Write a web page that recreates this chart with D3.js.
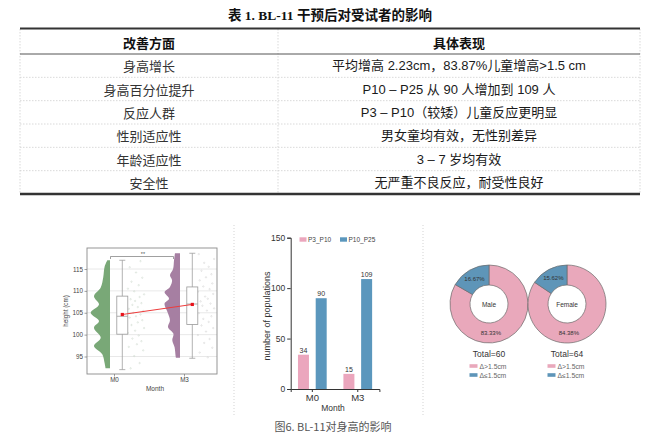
<!DOCTYPE html>
<html>
<head>
<meta charset="utf-8">
<script src="https://cdn.jsdelivr.net/npm/d3@7"></script>
<style>
	body { margin: 0; background: #fff; }
	svg { display: block; }
</style>
</head>
<body>
<svg id="chart" width="650" height="438"></svg>
<script>
// ---- table ----
var tableTitle = '表 1. BL-11 干预后对受试者的影响';
var tableHeader = ['改善方面', '具体表现'];
var aspects = ['身高增长', '身高百分位提升', '反应人群', '性别适应性', '年龄适应性', '安全性'];
var effects = [
	'平均增高 2.23cm，83.87%儿童增高>1.5 cm',
	'P10 – P25 从 90 人增加到 109 人',
	'P3 – P10（较矮）儿童反应更明显',
	'男女童均有效，无性别差异',
	'3 – 7 岁均有效',
	'无严重不良反应，耐受性良好'
];

// ---- raincloud (height by month) ----
var months = ['M0', 'M3'];
var heightTicks = [95, 100, 105, 110, 115];
var m0DensityH = [92.3, 93.5, 95.5, 97.4, 99.3, 101.6, 103.1, 105.0, 106.9, 108.8, 110.8, 113.1, 115.5, 117.0];
var m0Density = [0.23, 0.28, 0.4, 0.83, 0.48, 0.83, 0.57, 1.0, 0.57, 0.83, 0.48, 0.35, 0.28, 0.14];
var m3DensityH = [94.7, 95.2, 97.1, 98.7, 100.2, 101.7, 103.3, 105.2, 107.1, 108.2, 109.7, 110.9, 112.4, 113.6, 115.0, 117.0, 118.6];
var m3Density = [0.21, 0.23, 0.28, 0.4, 0.34, 0.62, 0.52, 0.65, 0.8, 0.57, 0.8, 0.52, 0.41, 0.52, 0.36, 0.31, 0.26];
// min, q1, median, q3, max, mean
var boxStats = [
	[92.0, 100.1, 104.2, 108.8, 117.0, 104.6],
	[94.6, 102.3, 107.0, 110.9, 118.6, 106.9]
];
var m0Heights = [92.3, 93.5, 95.1, 96.4, 97.2, 97.8, 98.5, 99.1, 99.8, 100.4, 100.9, 101.5, 102.2, 102.8, 103.3, 103.9, 104.2, 104.6,
	105.0, 105.4, 105.9, 106.3, 106.8, 107.2, 107.7, 108.1, 108.6, 109.2, 109.9, 110.5, 111.3, 112.1, 113.0, 114.2, 115.4, 116.8];
var m0Jitter = [0.2, 0.7, 0.4, 0.9, 0.1, 0.55, 0.8, 0.3, 0.65, 0.05, 0.45, 0.95, 0.25, 0.6, 0.85, 0.15, 0.5, 0.75,
	0.35, 0.9, 0.1, 0.6, 0.3, 0.8, 0.45, 0.2, 0.7, 0.95, 0.4, 0.05, 0.65, 0.25, 0.85, 0.5, 0.15, 0.75];
var m3Heights = [94.8, 95.9, 97.0, 98.1, 99.0, 99.9, 100.7, 101.5, 102.1, 102.9, 103.6, 104.2, 104.9, 105.5, 106.0, 106.6, 107.1,
	107.6, 108.2, 108.7, 109.3, 109.8, 110.4, 111.0, 111.7, 112.4, 113.1, 113.8, 114.6, 115.5, 116.4, 117.3, 118.4];
var m3Jitter = [0.6, 0.15, 0.85, 0.4, 0.7, 0.05, 0.5, 0.9, 0.25, 0.65, 0.35, 0.8, 0.1, 0.55, 0.95, 0.3, 0.75,
	0.2, 0.6, 0.45, 0.9, 0.05, 0.7, 0.35, 0.85, 0.15, 0.5, 0.8, 0.25, 0.65, 0.4, 0.95, 0.1];

// ---- bars (populations) ----
var groups = ['P3_P10', 'P10_P25'];
var p3p10 = [34, 15];
var p10p25 = [90, 109];
var popTicks = [0, 50, 100, 150];

// ---- donuts ----
var sexes = ['Male', 'Female'];
var above15 = [83.33, 84.38];
var below15 = [16.67, 15.62];
var totals = [60, 64];
var donutLegend = ['Δ>1.5cm', 'Δ≤1.5cm'];

var caption = '图6. BL-11对身高的影响';

var sans = '"Liberation Sans", Arial, "Noto Sans CJK SC", sans-serif';
var cjk = '"Noto Sans CJK SC", "Liberation Sans", sans-serif';
var pink = '#eba6bd', blue = '#5b97bd';

var svg = d3.select('#chart');

// ===== table =====
var tbl = svg.append('g');
var tLeft = 20, tRight = 640, tDiv = 278;

tbl.append('text')
	.attr('x', 330).attr('y', 15)
	.attr('text-anchor', 'middle').attr('dominant-baseline', 'central')
	.attr('font-family', '"Liberation Serif", "Noto Sans CJK SC", serif')
	.attr('font-weight', 'bold').attr('font-size', 13.5).attr('fill', '#111')
	.text(tableTitle);

var rowScale = d3.scaleBand()
	.domain(d3.range(aspects.length))
	.range([54, 194]);

// faint dotted cell borders
tbl.selectAll('line.vert')
	.data([tLeft, tDiv, tRight])
	.enter().append('line')
	.attr('x1', function(d) { return d; }).attr('x2', function(d) { return d; })
	.attr('y1', 29).attr('y2', 193)
	.attr('stroke', '#cfcfcf').attr('stroke-width', 0.8)
	.attr('stroke-dasharray', '1.5,1.5');

tbl.selectAll('line.row')
	.data(d3.range(1, aspects.length))
	.enter().append('line')
	.attr('x1', tLeft).attr('x2', tRight)
	.attr('y1', function(d) { return rowScale(d); })
	.attr('y2', function(d) { return rowScale(d); })
	.attr('stroke', '#cfcfcf').attr('stroke-width', 0.8)
	.attr('stroke-dasharray', '1.5,1.5');

tbl.append('line')
	.attr('x1', tLeft).attr('x2', tRight).attr('y1', 28.5).attr('y2', 28.5)
	.attr('stroke', '#333').attr('stroke-width', 2);
tbl.append('line')
	.attr('x1', tLeft).attr('x2', tRight).attr('y1', 54).attr('y2', 54)
	.attr('stroke', '#555').attr('stroke-width', 1);
tbl.append('line')
	.attr('x1', tLeft).attr('x2', tRight).attr('y1', 194).attr('y2', 194)
	.attr('stroke', '#333').attr('stroke-width', 2.5);

var colCenters = [(tLeft + tDiv) / 2, (tDiv + tRight) / 2];

tbl.selectAll('text.head')
	.data(tableHeader)
	.enter().append('text')
	.attr('x', function(d, i) { return colCenters[i]; })
	.attr('y', 42)
	.attr('text-anchor', 'middle').attr('dominant-baseline', 'central')
	.attr('font-family', cjk).attr('font-weight', 'bold')
	.attr('font-size', 13).attr('fill', '#111')
	.text(function(d) { return d; });

tbl.selectAll('text.aspect')
	.data(aspects)
	.enter().append('text')
	.attr('x', colCenters[0])
	.attr('y', function(d, i) { return rowScale(i) + rowScale.bandwidth() / 2; })
	.attr('text-anchor', 'middle').attr('dominant-baseline', 'central')
	.attr('font-family', cjk).attr('font-size', 13).attr('fill', '#333')
	.text(function(d) { return d; });

tbl.selectAll('text.effect')
	.data(effects)
	.enter().append('text')
	.attr('x', colCenters[1])
	.attr('y', function(d, i) { return rowScale(i) + rowScale.bandwidth() / 2; })
	.attr('text-anchor', 'middle').attr('dominant-baseline', 'central')
	.attr('font-family', sans).attr('font-size', 13).attr('fill', '#1a1a1a')
	.text(function(d) { return d; });

// ===== separators =====
svg.selectAll('line.sep')
	.data([234, 423])
	.enter().append('line')
	.attr('x1', function(d) { return d; }).attr('x2', function(d) { return d; })
	.attr('y1', 225).attr('y2', 416)
	.attr('stroke', '#c8c8c8').attr('stroke-width', 0.8)
	.attr('stroke-dasharray', '1,2');

// ===== raincloud =====
var rc = svg.append('g');
var fx0 = 87, fx1 = 217, fy0 = 248, fy1 = 374;

var yL = d3.scaleLinear().domain([91, 119.8]).range([fy1, fy0]);
var xL = d3.scalePoint().domain(months).range([114, 184]);
var wL = d3.scaleLinear().domain([0, 1]).range([0, 19.3]);

rc.selectAll('line.grid')
	.data(heightTicks)
	.enter().append('line')
	.attr('x1', fx0).attr('x2', fx1)
	.attr('y1', function(d) { return yL(d); }).attr('y2', function(d) { return yL(d); })
	.attr('stroke', '#e2e2e2').attr('stroke-width', 0.8);

var clouds = [
	{ m: 'M0', h: m0DensityH, d: m0Density, color: '#79a877', pts: m0Heights, jit: m0Jitter, dot: '#c9d4c9' },
	{ m: 'M3', h: m3DensityH, d: m3Density, color: '#a67fa2', pts: m3Heights, jit: m3Jitter, dot: '#cfcfcf' }
];

clouds.forEach(function(c, gi) {
	var edge = xL(c.m) - 4;
	var area = d3.area()
		.curve(d3.curveCatmullRom)
		.y(function(d, i) { return yL(c.h[i]); })
		.x0(edge)
		.x1(function(d, i) { return edge - wL(c.d[i]); });
	rc.append('path')
		.datum(c.d)
		.attr('d', area)
		.attr('fill', c.color);

	rc.selectAll('circle.pt' + gi)
		.data(c.pts)
		.enter().append('circle')
		.attr('cx', function(d, i) { return xL(c.m) + 13 + c.jit[i] * 18; })
		.attr('cy', function(d) { return yL(d); })
		.attr('r', 0.7)
		.attr('fill', 'none')
		.attr('stroke', c.dot).attr('stroke-width', 0.5);

	var s = boxStats[gi];
	var bx = xL(c.m) + 8.3, bw = 11;
	rc.append('line')
		.attr('x1', bx).attr('x2', bx).attr('y1', yL(s[0])).attr('y2', yL(s[4]))
		.attr('stroke', '#a0a0a0').attr('stroke-width', 0.8);
	rc.selectAll('line.cap' + gi)
		.data([s[0], s[4]])
		.enter().append('line')
		.attr('x1', bx - 3).attr('x2', bx + 3)
		.attr('y1', function(d) { return yL(d); }).attr('y2', function(d) { return yL(d); })
		.attr('stroke', '#a0a0a0').attr('stroke-width', 0.8);
	rc.append('rect')
		.attr('x', bx - bw / 2).attr('width', bw)
		.attr('y', yL(s[3])).attr('height', yL(s[1]) - yL(s[3]))
		.attr('fill', '#fff').attr('stroke', '#9a9a9a').attr('stroke-width', 0.8);
	rc.append('line')
		.attr('x1', bx - bw / 2).attr('x2', bx + bw / 2)
		.attr('y1', yL(s[2])).attr('y2', yL(s[2]))
		.attr('stroke', '#9a9a9a').attr('stroke-width', 0.8);
});

// mean line
var meanLine = d3.line()
	.x(function(d, i) { return xL(months[i]) + 8.3; })
	.y(function(d) { return yL(d[5]); });
rc.append('path')
	.datum(boxStats)
	.attr('d', meanLine)
	.attr('fill', 'none').attr('stroke', '#ee3b3b').attr('stroke-width', 1);
rc.selectAll('rect.mean')
	.data(boxStats)
	.enter().append('rect')
	.attr('x', function(d, i) { return xL(months[i]) + 8.3 - 1.6; })
	.attr('y', function(d) { return yL(d[5]) - 1.6; })
	.attr('width', 3.2).attr('height', 3.2)
	.attr('fill', '#e8111a');

// significance bracket
var brY = 256.5;
rc.append('path')
	.attr('d', 'M' + (xL('M0') - 3.5) + ',' + (brY + 2.5) + 'V' + brY + 'H' + (xL('M3') - 10.5) + 'V' + (brY + 2.5))
	.attr('fill', 'none').attr('stroke', '#777').attr('stroke-width', 0.7);
rc.append('text')
	.attr('x', (xL('M0') + xL('M3')) / 2 - 6).attr('y', brY - 0.5)
	.attr('text-anchor', 'middle')
	.attr('font-family', sans).attr('font-size', 5.5).attr('fill', '#555')
	.text('**');

// frame
rc.append('rect')
	.attr('x', fx0).attr('y', fy0).attr('width', fx1 - fx0).attr('height', fy1 - fy0)
	.attr('fill', 'none').attr('stroke', '#8a8a8a').attr('stroke-width', 0.9);

var yAxisL = rc.append('g')
	.attr('transform', 'translate(' + fx0 + ',0)')
	.call(d3.axisLeft(yL).tickValues(heightTicks).tickSize(2.5).tickPadding(1.5));
var xAxisL = rc.append('g')
	.attr('transform', 'translate(0,' + fy1 + ')')
	.call(d3.axisBottom(xL).tickSize(2.5).tickPadding(1.5));
[yAxisL, xAxisL].forEach(function(a) {
	a.select('.domain').remove();
	a.selectAll('line').attr('stroke', '#777').attr('stroke-width', 0.7);
	a.selectAll('text').attr('font-family', sans).attr('font-size', 6.3).attr('fill', '#444');
});

rc.append('text')
	.attr('x', 155).attr('y', 391)
	.attr('text-anchor', 'middle')
	.attr('font-family', sans).attr('font-size', 6.5).attr('fill', '#444')
	.text('Month');
rc.append('text')
	.attr('transform', 'translate(68,311) rotate(-90)')
	.attr('text-anchor', 'middle')
	.attr('font-family', sans).attr('font-size', 6.3).attr('fill', '#444')
	.text('height (cm)');

// ===== bar chart =====
var bc = svg.append('g');
var yB = d3.scaleLinear().domain([0, 150]).range([389, 237.7]);
var xB = d3.scaleBand().domain(months).range([290.7, 379.4]).paddingInner(0.368).paddingOuter(0.16);
var xSub = d3.scaleBand().domain(groups).range([0, xB.bandwidth()]).paddingInner(0.38);
var barColor = d3.scaleOrdinal().domain(groups).range([pink, blue]);

var barData = [];
months.forEach(function(m, i) {
	barData.push({ m: m, g: groups[0], v: p3p10[i] });
	barData.push({ m: m, g: groups[1], v: p10p25[i] });
});

bc.selectAll('rect.bar')
	.data(barData)
	.enter().append('rect')
	.attr('x', function(d) { return xB(d.m) + xSub(d.g); })
	.attr('y', function(d) { return yB(d.v); })
	.attr('width', xSub.bandwidth())
	.attr('height', function(d) { return yB(0) - yB(d.v); })
	.attr('fill', function(d) { return barColor(d.g); });

bc.selectAll('text.val')
	.data(barData)
	.enter().append('text')
	.attr('x', function(d) { return xB(d.m) + xSub(d.g) + xSub.bandwidth() / 2; })
	.attr('y', function(d) { return yB(d.v) - 2; })
	.attr('text-anchor', 'middle')
	.attr('font-family', sans).attr('font-size', 7).attr('fill', '#333')
	.text(function(d) { return d.v; });

var yAxisB = bc.append('g')
	.attr('transform', 'translate(290.7,0)')
	.call(d3.axisLeft(yB).tickValues(popTicks).tickSize(3.5).tickPadding(2));
var xAxisB = bc.append('g')
	.attr('transform', 'translate(0,389)')
	.call(d3.axisBottom(xB).tickSize(3).tickPadding(2));
[yAxisB, xAxisB].forEach(function(a) {
	a.selectAll('.domain').attr('stroke', '#333').attr('stroke-width', 1);
	a.selectAll('line').attr('stroke', '#333').attr('stroke-width', 1);
	a.selectAll('text').attr('font-family', sans).attr('fill', '#333');
});
yAxisB.selectAll('text').attr('font-size', 8.5);
xAxisB.selectAll('text').attr('font-size', 9.5);

bc.append('text')
	.attr('x', 333).attr('y', 411)
	.attr('text-anchor', 'middle')
	.attr('font-family', sans).attr('font-size', 8.5).attr('fill', '#333')
	.text('Month');
bc.append('text')
	.attr('transform', 'translate(270,316) rotate(-90)')
	.attr('text-anchor', 'middle')
	.attr('font-family', sans).attr('font-size', 9).attr('fill', '#333')
	.text('number of populations');

var legB = bc.selectAll('g.leg')
	.data(groups)
	.enter().append('g')
	.attr('transform', function(d, i) { return 'translate(' + [299.5, 340][i] + ',239.5)'; });
legB.append('rect')
	.attr('x', 0).attr('y', -2.2).attr('width', 7).attr('height', 4.4)
	.attr('fill', function(d) { return barColor(d); });
legB.append('text')
	.attr('x', 8.5).attr('y', 0)
	.attr('dominant-baseline', 'central')
	.attr('font-family', sans).attr('font-size', 6.5).attr('fill', '#444')
	.text(function(d) { return d; });

// ===== donuts =====
var dc = svg.append('g');
var xD = d3.scalePoint().domain(sexes).range([489, 567]);
var donutY = 304;
var rIn = 19, rOut = 39;
var pie = d3.pie().sort(null).value(function(d) { return d; });
var arc = d3.arc().innerRadius(rIn).outerRadius(rOut);
var sliceColor = [ '#e9a8bb', '#5e95b8' ];

sexes.forEach(function(sx, i) {
	var g = dc.append('g').attr('transform', 'translate(' + xD(sx) + ',' + donutY + ')');
	var slices = pie([above15[i], below15[i]]);
	g.selectAll('path')
		.data(slices)
		.enter().append('path')
		.attr('d', arc)
		.attr('fill', function(d, j) { return sliceColor[j]; })
		.attr('stroke', '#6a6a6a').attr('stroke-width', 0.7);

	var blueC = arc.centroid(slices[1]);
	var pinkC = arc.centroid({ startAngle: Math.PI * 0.98, endAngle: Math.PI * 0.98 });
	g.append('text')
		.attr('x', blueC[0]).attr('y', blueC[1])
		.attr('text-anchor', 'middle').attr('dominant-baseline', 'central')
		.attr('font-family', sans).attr('font-size', 6).attr('fill', '#333')
		.text(below15[i].toFixed(2) + '%');
	g.append('text')
		.attr('x', pinkC[0]).attr('y', pinkC[1])
		.attr('text-anchor', 'middle').attr('dominant-baseline', 'central')
		.attr('font-family', sans).attr('font-size', 6).attr('fill', '#333')
		.text(above15[i].toFixed(2) + '%');
	g.append('text')
		.attr('x', 0).attr('y', 0)
		.attr('text-anchor', 'middle').attr('dominant-baseline', 'central')
		.attr('font-family', sans).attr('font-size', 6.5).attr('fill', '#333')
		.text(sx);

	dc.append('text')
		.attr('x', xD(sx)).attr('y', 353.5)
		.attr('text-anchor', 'middle').attr('dominant-baseline', 'central')
		.attr('font-family', sans).attr('font-size', 8.5).attr('fill', '#333')
		.text('Total=' + totals[i]);

	var lg = dc.selectAll('g.dleg' + i)
		.data(donutLegend)
		.enter().append('g')
		.attr('transform', function(d, j) { return 'translate(' + (xD(sx) - 19.5) + ',' + (366 + j * 9) + ')'; });
	lg.append('rect')
		.attr('x', 0).attr('y', -1.8).attr('width', 8).attr('height', 3.6)
		.attr('fill', function(d, j) { return sliceColor[j]; });
	lg.append('text')
		.attr('x', 10).attr('y', 0)
		.attr('dominant-baseline', 'central')
		.attr('font-family', sans).attr('font-size', 6.8).attr('fill', '#666')
		.text(function(d) { return d; });
});

// ===== caption =====
svg.append('text')
	.attr('x', 333).attr('y', 426)
	.attr('text-anchor', 'middle').attr('dominant-baseline', 'central')
	.attr('font-family', cjk).attr('font-size', 11).attr('fill', '#555')
	.text(caption);
</script>
</body>
</html>
